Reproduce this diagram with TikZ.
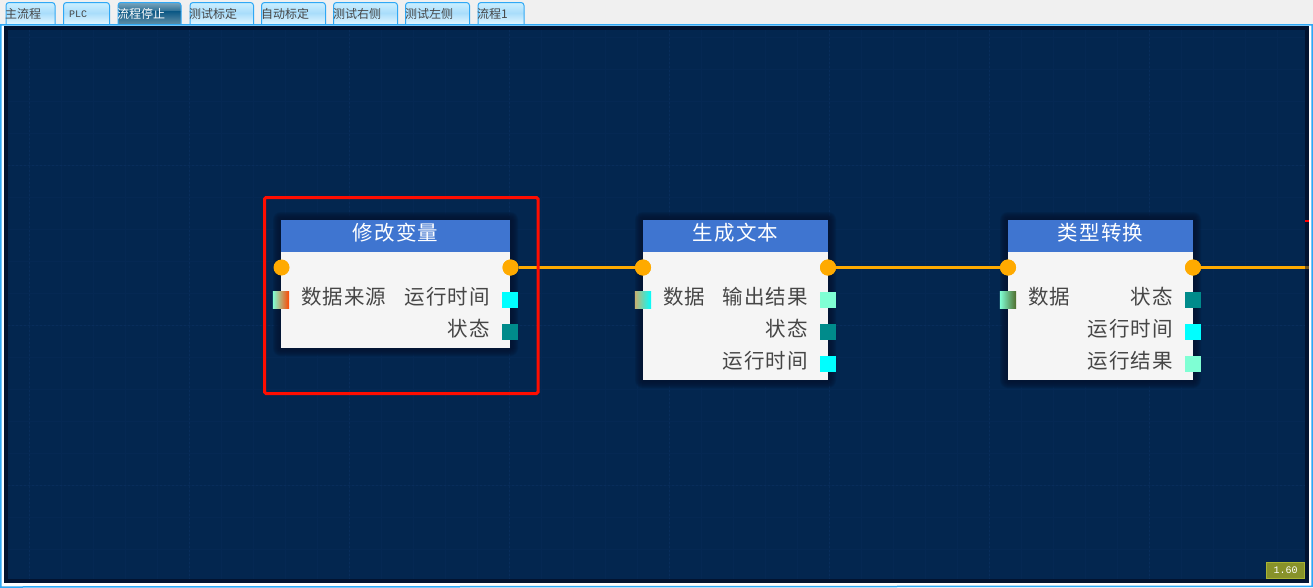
\documentclass[tikz,border=0pt]{standalone}
\usepackage{fontspec}
\newfontfamily\cjk[LetterSpace=5]{Noto Sans CJK SC}
\newfontfamily\cjktab{Noto Sans CJK SC}
\newfontfamily\monof{Liberation Mono}
\definecolor{panelbg}{HTML}{03264F}
\definecolor{framec}{HTML}{021330}
\definecolor{tabline}{HTML}{2FA8F5}
\definecolor{headblue}{HTML}{3F75D0}
\definecolor{bodyc}{HTML}{F5F5F5}
\definecolor{wirec}{HTML}{FFAA00}
\definecolor{teal1}{HTML}{008B8B}
\definecolor{aqua1}{HTML}{7FFFD4}
\definecolor{cyan1}{HTML}{00FFFF}
\definecolor{orangered1}{HTML}{FF4500}
\definecolor{sand1}{HTML}{C8B070}
\definecolor{moss1}{HTML}{4F6B2A}
\definecolor{gridc}{HTML}{0A3060}
\definecolor{inkc}{HTML}{464646}
\tikzset{
  x=1pt,y=-1pt,
  blockbody/.style={fill=bodyc,draw=none,inner sep=0pt,outer sep=0pt,anchor=north west},
  blockhead/.style={fill=headblue,draw=none,inner sep=0pt,outer sep=0pt,anchor=north west,minimum height=32pt,text=white,font=\cjk\fontsize{20.5}{20.5}\selectfont},
  flowpin/.style={circle,fill=wirec,draw=none,minimum size=16pt,inner sep=0pt},
  datapin/.style={rectangle,draw=none,minimum size=16pt,inner sep=0pt},
  lefttext/.style={anchor=west,inner sep=0pt,text=inkc,font=\cjk\fontsize{20.5}{20.5}\selectfont},
  righttext/.style={anchor=east,inner sep=0pt,text=inkc,font=\cjk\fontsize{20.5}{20.5}\selectfont},
  wire/.style={draw=wirec,line width=2.6pt},
  tabtext/.style={anchor=west,inner sep=0pt,text=inkc,font=\cjktab\fontsize{12}{12}\selectfont},
}
% #1 left, #2 right, #3 label, #4 text x
\newcommand{\tabshape}[4]{%
  \begin{scope}
    \clip[rounded corners=3pt] (#1,2) rectangle (#2,26);
    \shade[top color=tabtop,bottom color=tabmid] (#1,2) rectangle (#2,13);
    \shade[top color=tabmid,bottom color=tabbot] (#1,13) rectangle (#2,24);
  \end{scope}
  \draw[tabline,line width=1pt,rounded corners=3pt] (#1,24) -- (#1,2.5) -- (#2,2.5) -- (#2,24);
  \node[tabtext] at (#4,14) {#3};
}
\newcommand{\blockshadow}[4]{%
  \foreach \g in {8,7,6,5,4,3,2,1}{
    \fill[framec,opacity=0.2,rounded corners=\g pt] (#1-\g,#2-\g) rectangle (#3+\g,#4+\g);
  }
}
\newcommand{\headlabel}[1]{\raisebox{-4pt}[0pt][0pt]{#1}}
\begin{document}
\begin{tikzpicture}
\useasboundingbox (0,0) rectangle (1313,587);
\fill[white!94!black] (0,0) rectangle (1313,587);
% tabs
\definecolor{tabtop}{HTML}{CDF0FF}
\definecolor{tabmid}{HTML}{A9DDFB}
\definecolor{tabbot}{HTML}{E2F6FF}
\tabshape{6}{55}{主流程}{5}
\tabshape{63.5}{109.5}{\monof\fontsize{10}{10}\selectfont PLC}{69}
\tabshape{190}{253.5}{测试标定}{189}
\tabshape{261.5}{325.5}{自动标定}{261}
\tabshape{333.5}{397.5}{测试右侧}{333}
\tabshape{405.5}{469.5}{测试左侧}{405}
\tabshape{478}{524}{流程1}{477}
\definecolor{tabtop}{HTML}{7FA9BF}
\definecolor{tabmid}{HTML}{0A5784}
\definecolor{tabbot}{HTML}{5E8CA6}
\begin{scope}
  \clip[rounded corners=3pt] (118,2) rectangle (181,26);
  \shade[top color=tabtop,bottom color=tabmid!70!tabtop] (118,2) rectangle (181,11);
  \shade[top color=tabmid,bottom color=tabbot] (118,11) rectangle (181,24);
\end{scope}
\draw[tabline,line width=1pt,rounded corners=3pt] (118,24) -- (118,2.5) -- (181,2.5) -- (181,24);
\node[tabtext,text=white] at (117,14) {流程停止};
% panel
\fill[white] (0,24) rectangle (1313,587);
\draw[tabline,line width=1.5pt] (0.75,587) -- (0.75,24.75) -- (1312,24.75) -- (1312,586.25) -- cycle;
\fill[framec] (4,26) rectangle (1309,583);
\fill[panelbg] (8,30) rectangle (1305,579);
% grid
\begin{scope}
  \clip (8,30) rectangle (1305,579);
  \foreach \gx in {29,61,...,1305}{\draw[gridc!22!panelbg,line width=0.5pt] (\gx,30) -- (\gx,579);}
  \foreach \gy in {37,69,...,579}{\draw[gridc!22!panelbg,line width=0.5pt] (8,\gy) -- (1305,\gy);}
  \foreach \gx in {29,189,...,1305}{\draw[gridc!70!panelbg,line width=1pt,dash pattern=on 2pt off 2pt] (\gx,30) -- (\gx,579);}
  \foreach \gy in {165,325,485}{\draw[gridc!70!panelbg,line width=1pt,dash pattern=on 2pt off 2pt] (8,\gy) -- (1305,\gy);}
\end{scope}
% shadows
\blockshadow{281}{220}{510}{348}
\blockshadow{643}{220}{828}{380}
\blockshadow{1008}{220}{1193}{380}
% block 1
\node[blockbody,minimum width=229pt,minimum height=128pt] (b1) at (281,220) {};
\node[blockhead,minimum width=229pt] (h1) at (281,220) {\headlabel{修改变量}};
\node[flowpin] (i1) at (281.5,267.5) {};
\node[flowpin] (o1) at (510.5,267.5) {};
\node[datapin] (d1) at (281,300) {};
\shade[left color=aqua1,right color=orangered1] (d1.south west) rectangle (d1.north east);
\node[lefttext] (t1a) at (301,297) {数据来源};
\node[righttext] (t1b) at (490,297) {运行时间};
\node[righttext] (t1c) at (490,329) {状态};
\node[datapin,fill=cyan1] (p1a) at (510,300) {};
\node[datapin,fill=teal1] (p1b) at (510,332) {};
% block 2
\node[blockbody,minimum width=185pt,minimum height=160pt] (b2) at (643,220) {};
\node[blockhead,minimum width=185pt] (h2) at (643,220) {\headlabel{生成文本}};
\node[flowpin] (i2) at (643,267.5) {};
\node[flowpin] (o2) at (828,267.5) {};
\node[datapin] (d2) at (643,300) {};
\shade[left color=sand1,right color=cyan1] (d2.south west) rectangle (d2.north east);
\node[lefttext] (t2a) at (663,297) {数据};
\node[righttext] (t2b) at (808,297) {输出结果};
\node[righttext] (t2c) at (808,329) {状态};
\node[righttext] (t2d) at (808,361) {运行时间};
\node[datapin,fill=aqua1] (p2a) at (828,300) {};
\node[datapin,fill=teal1] (p2b) at (828,332) {};
\node[datapin,fill=cyan1] (p2c) at (828,364) {};
% block 3
\node[blockbody,minimum width=185pt,minimum height=160pt] (b3) at (1008,220) {};
\node[blockhead,minimum width=185pt] (h3) at (1008,220) {\headlabel{类型转换}};
\node[flowpin] (i3) at (1008,267.5) {};
\node[flowpin] (o3) at (1193,267.5) {};
\node[datapin] (d3) at (1008,300) {};
\shade[left color=aqua1,right color=moss1] (d3.south west) rectangle (d3.north east);
\node[lefttext] (t3a) at (1028,297) {数据};
\node[righttext] (t3b) at (1173,297) {状态};
\node[righttext] (t3c) at (1173,329) {运行时间};
\node[righttext] (t3d) at (1173,361) {运行结果};
\node[datapin,fill=teal1] (p3a) at (1193,300) {};
\node[datapin,fill=cyan1] (p3b) at (1193,332) {};
\node[datapin,fill=aqua1] (p3c) at (1193,364) {};
% connectors
\coordinate (wend) at (1305,267.5);
\draw[wire] (o1) -- (i2);
\draw[wire] (o2) -- (i3);
\draw[wire] (o3) -- (wend);
\node[flowpin] at (o1) {};
\node[flowpin] at (i2) {};
\node[flowpin] at (o2) {};
\node[flowpin] at (i3) {};
\node[flowpin] at (o3) {};
\fill[wirec!45!framec] (1305,266.2) rectangle (1309,268.8);
\fill[red] (1305,219.5) rectangle (1309,222);
% selection
\draw[draw=red!90!orange,line width=3pt,rounded corners=1.5pt] (264.5,197.5) rectangle (538,393.5);
% zoom badge
\node[draw={rgb,255:red,170;green,180;blue,50},fill={rgb,255:red,136;green,146;blue,42},line width=1pt,minimum width=38pt,minimum height=16pt,inner sep=0pt,text=white,font=\monof\fontsize{10}{10}\selectfont] (zoom) at (1285.5,570) {1.60};
\end{tikzpicture}
\end{document}
